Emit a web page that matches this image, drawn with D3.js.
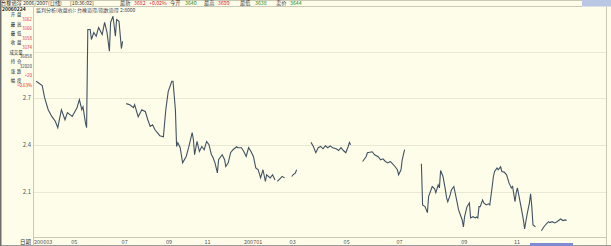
<!DOCTYPE html>
<html>
<meta charset="utf-8">
<style>
body { margin:0; padding:0; background:#fdfdea; }
svg { display:block; }
text { font-family: "Noto Sans CJK SC", "DejaVu Sans", sans-serif; }
</style>
<svg id="chart" width="611" height="246"></svg>
<script src="https://cdn.jsdelivr.net/npm/d3@7/dist/d3.min.js"></script>
<script>
// trading-day index and ratio value (null = no data)
var days = [1,6,8,11,14,17,19,22,25,27,31,35,37,39,40,42,43,44,46,47,49,51,53,56,58,60,62,63,65,67,68,70,72,73,74,
	76,79,82,83,86,89,92,94,96,98,100,104,107,109,111,114,115,117,118,119,121,123,126,128,131,132,133,135,137,139,141,143,145,147,148,150,152,153,156,158,159,161,163,165,168,169,172,174,176,178,180,182,184,186,188,190,192,193,196,198,200,201,
	202,206,208,210,214,215,217,218,220,
	230,232,234,236,238,240,242,244,246,248,251,253,255,257,259,261,262,263,265,
	273,276,277,281,283,286,288,290,292,294,296,298,300,302,303,305,306,308,312,
	322,323,325,327,328,331,333,334,336,337,338,340,342,343,344,346,347,349,351,353,356,357,358,360,362,363,365,367,368,369,370,371,373,374,376,378,379,381,382,383,385,386,388,389,391,393,395,397,398,400,401,402,405,407,408,410,412,413,414,415,417,419,
	422,424,426,428,429,431,433,435,438,440,442,443];
var ratio = [2.810,2.782,2.705,2.628,2.585,2.553,2.513,2.628,2.564,2.609,2.585,2.641,2.692,2.628,2.647,2.545,2.513,3.141,3.141,3.077,3.122,3.098,3.154,3.109,3.186,3.122,3.002,3.186,3.226,3.098,3.205,3.194,3.019,3.066,null,
	2.667,2.660,2.641,2.660,2.583,2.628,2.615,2.564,2.521,2.532,2.500,2.462,2.455,2.628,2.744,2.810,2.810,2.628,2.393,2.417,2.385,2.288,2.329,2.385,2.481,2.436,2.340,2.425,2.361,2.393,2.372,2.425,2.404,2.340,2.329,2.288,2.224,2.308,2.340,2.308,2.265,2.288,2.353,2.372,2.391,2.385,2.385,2.361,2.329,2.385,2.361,2.329,2.256,2.244,2.192,2.244,2.169,2.212,2.192,2.212,2.179,null,
	2.169,2.201,2.192,null,2.201,2.212,2.224,2.244,null,
	2.419,2.393,2.353,2.385,2.393,2.378,2.397,2.385,2.397,2.385,2.378,2.367,2.385,2.367,2.353,2.393,2.419,2.404,null,
	2.297,2.329,2.353,2.359,2.340,2.327,2.308,2.314,2.297,2.288,2.297,2.282,2.265,2.244,2.212,2.244,2.308,2.372,null,
	2.282,2.019,2.008,1.970,2.072,2.137,2.122,2.098,2.147,2.128,2.239,2.201,2.115,2.064,2.040,2.083,2.115,2.137,2.064,1.987,1.923,1.878,1.944,2.008,2.032,1.936,1.944,1.936,1.942,1.936,2.008,2.008,2.051,2.032,2.019,2.026,2.019,2.137,2.201,2.233,2.256,2.244,2.263,2.233,2.229,2.212,2.160,2.128,2.137,2.040,2.096,2.128,2.008,1.923,1.865,1.955,2.032,2.090,2.008,1.891,1.880,null,
	1.854,1.878,1.897,1.912,1.906,1.912,1.904,1.912,1.929,1.919,1.923,1.919];

var tickDays = [0,31,73,110,142,175,213,258,302,356,400];
var tickLabels = ["200603","05","07","09","11","200701","03","05","07","09","11"];
var yTicks = [3.0,2.7,2.4,2.1];

var infoDate = "20060224";
var infoLabels = ["开  盘","最  高","最  低","收  盘","成交量","持  仓","涨  跌","幅  度"];
var infoValues = ["3162","3166","3158","3174","36858","32020","+20","+0.63%"];

var titleParts = [
	{t:"台橡谘淂 2006/2007(日线)", c:"#333"},
	{t:"[10:36:02]", c:"#333"},
	{t:"最新", c:"#333"}, {t:"3682", c:"#e02020"}, {t:"+0.02%", c:"#e02020"},
	{t:"今开", c:"#333"}, {t:"3640", c:"#1a8a1a"},
	{t:"最高", c:"#333"}, {t:"3699", c:"#e02020"},
	{t:"最低", c:"#333"}, {t:"3638", c:"#1a8a1a"},
	{t:"卖价", c:"#333"}, {t:"3644", c:"#1a8a1a"}
];
var subTitle = "监判分析(收盘价): 台橡谘淂/指数谘淂  2:8000";

var W = 611, H = 246;
var plot = {left: 33, right: 606, top: 6.5, bottom: 237};

var svg = d3.select("#chart");

svg.append("rect").attr("width", W).attr("height", H).attr("fill", "#fdfdea");

var x = d3.scaleLinear().domain([0, 475]).range([35, 605]);
var y = d3.scaleLinear().domain([1.814, 3.288]).range([plot.bottom, plot.top]);

// grid
svg.append("g").selectAll("line")
	.data(yTicks)
  .enter().append("line")
	.attr("x1", plot.left).attr("x2", plot.right)
	.attr("y1", function(d) { return Math.round(y(d)) + 0.5; })
	.attr("y2", function(d) { return Math.round(y(d)) + 0.5; })
	.attr("stroke", "#e9e9d3").attr("stroke-width", 1);

// y labels (3.0 sits under the info panel)
svg.append("g").selectAll("text")
	.data(yTicks.filter(function(d) { return d < 2.9; }))
  .enter().append("text")
	.attr("x", 31).attr("y", function(d) { return y(d) + 2; })
	.attr("text-anchor", "end")
	.style("font-size", "6px").attr("fill", "#555")
	.text(function(d) { return d.toFixed(1); });

// frame
var frame = svg.append("g").attr("stroke", "#c9c9b4").attr("fill", "none");
frame.append("line").attr("x1", 0).attr("x2", W).attr("y1", 0.5).attr("y2", 0.5);
frame.append("line").attr("x1", 0).attr("x2", 582).attr("y1", plot.top).attr("y2", plot.top);
frame.append("line").attr("x1", plot.left + 0.5).attr("x2", plot.left + 0.5).attr("y1", plot.top).attr("y2", H - 1);
frame.append("line").attr("x1", plot.left).attr("x2", plot.right).attr("y1", plot.bottom + 0.5).attr("y2", plot.bottom + 0.5);
frame.append("line").attr("x1", plot.right + 0.5).attr("x2", plot.right + 0.5).attr("y1", plot.top).attr("y2", H - 1);
svg.append("line").attr("x1", 0).attr("x2", W).attr("y1", H - 0.5).attr("y2", H - 0.5).attr("stroke", "#9a9a9a");
svg.append("rect").attr("x", 0).attr("y", 0).attr("width", 1.5).attr("height", H).attr("fill", "#6e6e6e");
svg.append("rect").attr("x", 582).attr("y", 0).attr("width", 29).attr("height", 6.5).attr("fill", "#b9c6e4");
svg.append("rect").attr("x", 530).attr("y", 243).attr("width", 43).attr("height", 3).attr("fill", "#7d8bd0");

// line
var pts = days.map(function(d, i) { return {d: d, v: ratio[i]}; });
var line = d3.line()
	.defined(function(p) { return p.v != null; })
	.x(function(p) { return x(p.d); })
	.y(function(p) { return y(p.v); });

svg.append("path")
	.datum(pts)
	.attr("d", line)
	.attr("fill", "none")
	.attr("stroke", "#425261")
	.attr("stroke-width", 1.1);

// x labels
svg.append("text").attr("x", 31).attr("y", 243.5).attr("text-anchor", "end")
	.style("font-size", "5.5px").attr("fill", "#333").text("日期");
svg.append("g").selectAll("text")
	.data(tickDays)
  .enter().append("text")
	.attr("x", function(d) { return x(d) - 1; })
	.attr("y", 243.5)
	.style("font-size", "5.5px").attr("fill", "#555")
	.text(function(d, i) { return tickLabels[i]; });

// title line
var tt = svg.append("text").attr("x", 1).attr("y", 5).style("font-size", "5.2px").attr("xml:space", "preserve");
var tx = [1, 70, 120, 134, 149, 170, 185, 204, 218, 240, 255, 276, 290];
titleParts.forEach(function(p, i) {
	tt.append("tspan").attr("x", tx[i]).attr("fill", p.c).text(p.t);
});
svg.append("text").attr("x", 36).attr("y", 11.5).style("font-size", "5px").attr("fill", "#445")
	.text(subTitle);

// info panel
svg.append("text").attr("x", 2).attr("y", 11).style("font-size", "5px").style("font-weight", "bold").attr("fill", "#222")
	.text(infoDate);
var info = svg.append("g");
infoLabels.forEach(function(l, i) {
	var y0 = 16.2 + i * 9.4;
	info.append("text").attr("x", 16).attr("y", y0).attr("text-anchor", "middle")
		.style("font-size", "4.4px").attr("fill", "#222").attr("xml:space", "preserve").text(l);
	info.append("text").attr("x", 32).attr("y", y0 + 4.6).attr("text-anchor", "end")
		.style("font-size", "4.4px").attr("fill", (i == 4 || i == 5) ? "#334" : "#e02020").text(infoValues[i]);
});
</script>
</html>
